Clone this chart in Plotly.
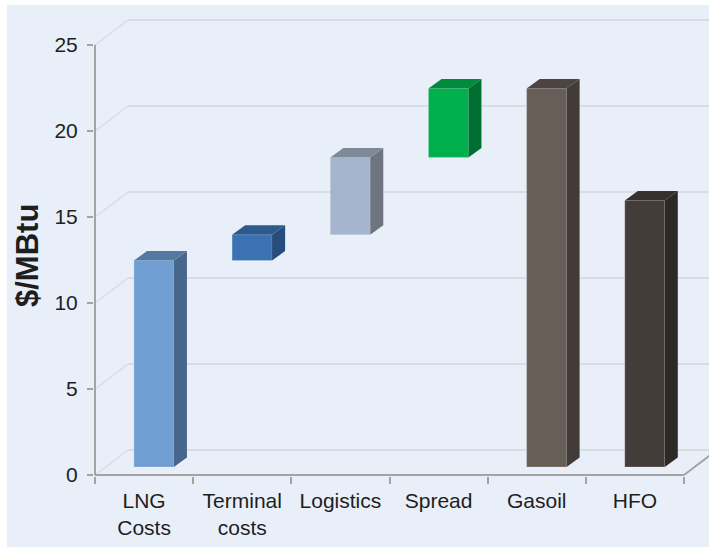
import plotly.graph_objects as go

# ---------------- data ----------------
categories = ["LNG<br>Costs", "Terminal<br>costs", "Logistics", "Spread", "Gasoil", "HFO"]
increments = [12, 1.5, 4.5, 4, 22, 15.5]          # $/MBtu
stacked = [True, True, True, True, False, False]  # waterfall steps vs. standalone bars
y_ticks = [0, 5, 10, 15, 20, 25]
y_title = "$/MBtu"

front_colors = ["#709ED2", "#3A72B4", "#A5B5CE", "#00B04C", "#675E58", "#433D39"]
top_colors = ["#52799F", "#2C5A8C", "#7F8998", "#008B3D", "#4B4440", "#36312D"]
side_colors = ["#46678B", "#264D7B", "#6D7581", "#007032", "#413A36", "#2D2926"]

# ---------------- geometry (style) ----------------
BAR_SHIFT = 0.10
BAR_W = 0.407
BAR_YOFF = 0.465
SIDE_DX = 0.133
SIDE_DY = 0.55
WALL_DX = 0.336
WALL_DY = 1.45
AXIS_GRAY = "#A3A3A3"
GRID = "#D8DCE3"
BG = "#E9EFF8"
FONT = "Arial, Liberation Sans, sans-serif"
TXT = "#1E1E1E"

X0, X1 = -0.0102, 6.2545
Y0, Y1 = -0.06, 27.15

lows, highs = [], []
run = 0.0
for inc, st in zip(increments, stacked):
    lo = run if st else 0.0
    hi = lo + inc
    if st:
        run = hi
    lows.append(lo)
    highs.append(hi)

n = len(categories)
fig = go.Figure()

# 3D side and top faces
for i in range(n):
    xl = i + 0.5 + BAR_SHIFT - BAR_W / 2
    xr = xl + BAR_W
    lo = lows[i] + BAR_YOFF
    hi = highs[i] + BAR_YOFF
    fig.add_trace(go.Scatter(
        x=[xr, xr + SIDE_DX, xr + SIDE_DX, xr, xr],
        y=[lo, lo + SIDE_DY, hi + SIDE_DY, hi, lo],
        fill="toself", fillcolor=side_colors[i], mode="lines",
        line=dict(width=0, color=side_colors[i]), hoverinfo="skip", showlegend=False))
    fig.add_trace(go.Scatter(
        x=[xl, xl + SIDE_DX, xr + SIDE_DX, xr, xl],
        y=[hi, hi + SIDE_DY, hi + SIDE_DY, hi, hi],
        fill="toself", fillcolor=top_colors[i], mode="lines",
        line=dict(width=0, color=top_colors[i]), hoverinfo="skip", showlegend=False))

# front faces
fig.add_trace(go.Bar(
    x=[i + 0.5 + BAR_SHIFT for i in range(n)],
    y=[h - l for h, l in zip(highs, lows)],
    base=[l + BAR_YOFF for l in lows],
    width=BAR_W,
    marker=dict(color=front_colors, line=dict(width=0.6, color="rgba(255,255,255,0.35)")),
    showlegend=False, hoverinfo="skip"))

shapes = []
W, H = 709, 547
L, R, T, B = 94, 0, 8, 71
pw, ph = W - L - R, H - T - B
def px_x(p):
    return (p - L) / pw
def px_y(p):
    return (H - B - p) / ph
# background panel (white strip on left/top)
shapes.append(dict(type="rect", xref="paper", yref="paper", x0=px_x(7), x1=px_x(W + 5),
                   y0=px_y(H + 5), y1=px_y(5), fillcolor=BG, line=dict(width=0), layer="below"))

# back wall gridlines and side diagonals
for v in y_ticks:
    shapes.append(dict(type="line", xref="x", yref="y", x0=WALL_DX, x1=X1 + 1,
                       y0=v + WALL_DY, y1=v + WALL_DY, line=dict(color=GRID, width=2), layer="below"))
    shapes.append(dict(type="line", xref="x", yref="y", x0=0, x1=WALL_DX,
                       y0=v, y1=v + WALL_DY, line=dict(color="#D6DAE0", width=1.2), layer="below"))
# front axes
shapes.append(dict(type="line", xref="x", yref="y", x0=0, x1=0, y0=0, y1=y_ticks[-1],
                   line=dict(color=AXIS_GRAY, width=2), layer="above"))
shapes.append(dict(type="line", xref="x", yref="y", x0=0, x1=n, y0=0, y1=0,
                   line=dict(color=AXIS_GRAY, width=2), layer="above"))
shapes.append(dict(type="line", xref="x", yref="y", x0=n, x1=n + WALL_DX, y0=0, y1=WALL_DY,
                   line=dict(color=AXIS_GRAY, width=2), layer="above"))

fig.update_layout(
    width=W, height=H,
    margin=dict(l=L, r=R, t=T, b=B, pad=0),
    paper_bgcolor="white", plot_bgcolor="rgba(0,0,0,0)",
    font=dict(family=FONT, size=21, color=TXT),
    shapes=shapes,
    showlegend=False,
    xaxis=dict(range=[X0, X1], tickmode="array", tickvals=[i + 0.5 for i in range(n)],
               ticktext=categories, ticks="", showgrid=False, zeroline=False, showline=False,
               tickfont=dict(size=21, color=TXT), fixedrange=True, ticklabelstandoff=10,
               minor=dict(tickmode="array", tickvals=list(range(n + 1)), ticks="outside",
                          ticklen=7, tickwidth=2, tickcolor=AXIS_GRAY, showgrid=False)),
    yaxis=dict(range=[Y0, Y1], tickmode="array", tickvals=y_ticks, ticks="outside",
               ticklen=6, tickwidth=2, tickcolor=AXIS_GRAY, showgrid=False, zeroline=False,
               showline=False, tickfont=dict(size=21, color=TXT), fixedrange=True,
               ticklabelstandoff=5),
    annotations=[dict(text="<b>" + y_title + "</b>", xref="paper", yref="paper",
                      x=px_x(27), y=px_y(256), textangle=-90, showarrow=False,
                      xanchor="center", yanchor="middle",
                      font=dict(family=FONT, size=31, color=TXT))],
)

fig.write_html("out.html")
